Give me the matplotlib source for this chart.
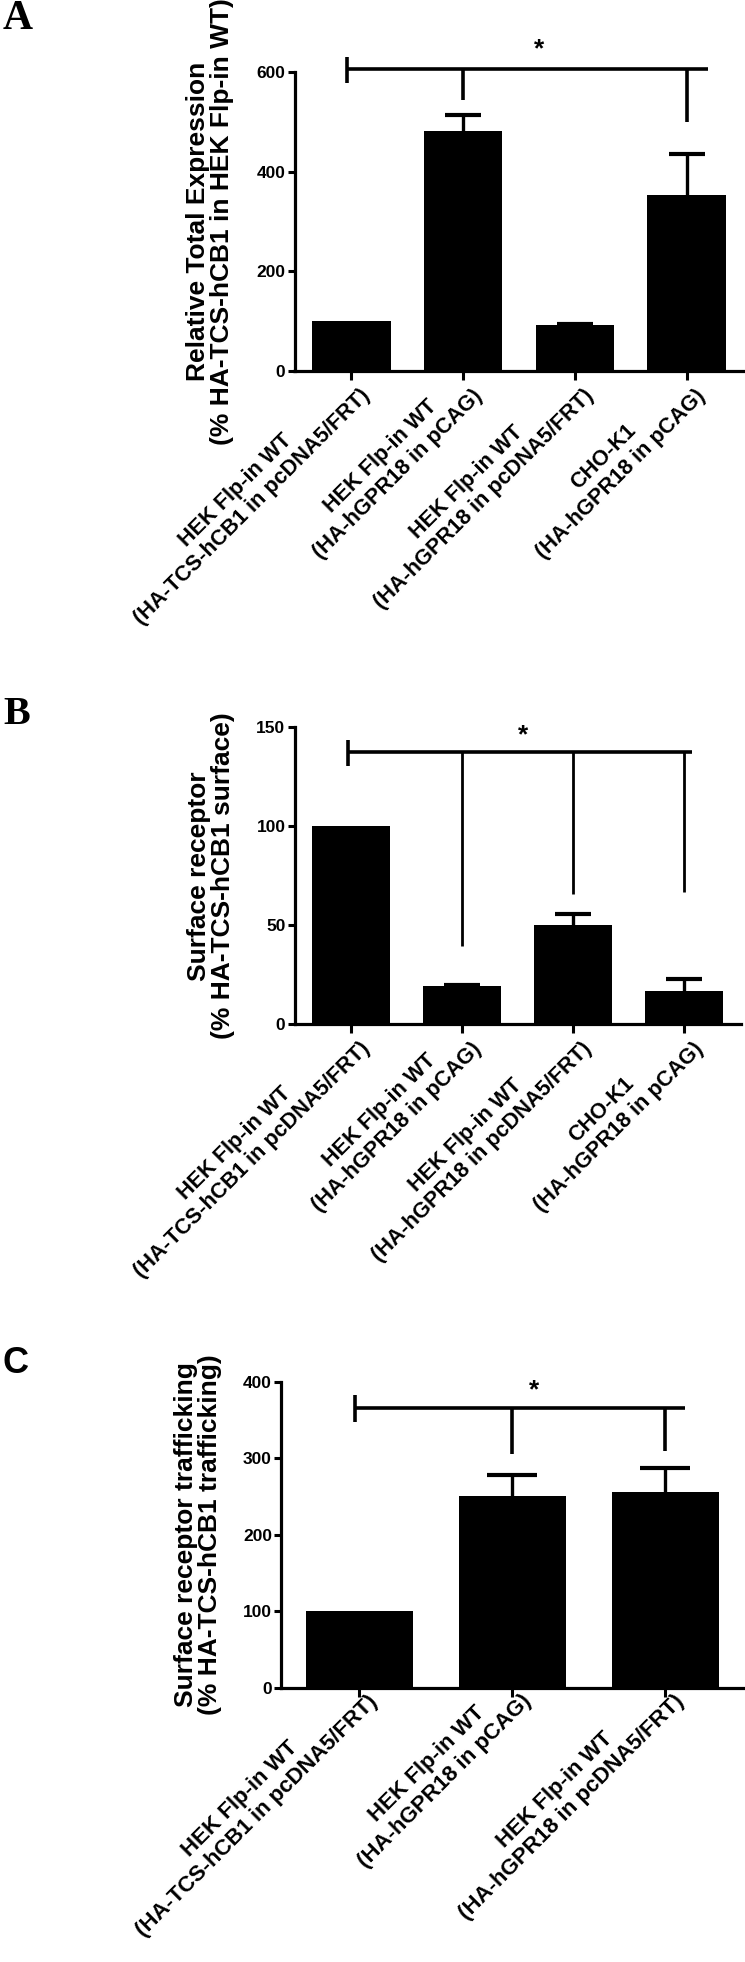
import numpy as np
import matplotlib
matplotlib.use("Agg")
import matplotlib.pyplot as plt
from matplotlib.transforms import ScaledTranslation

# data
labels_a = ["HEK Flp-in WT\n(HA-TCS-hCB1 in pcDNA5/FRT)",
            "HEK Flp-in WT\n(HA-hGPR18 in pCAG)",
            "HEK Flp-in WT\n(HA-hGPR18 in pcDNA5/FRT)",
            "CHO-K1\n(HA-hGPR18 in pCAG)"]
mean_a = [100, 482, 92, 353]
err_a = [0, 32, 3, 83]

labels_b = labels_a
mean_b = [100, 19.5, 50, 17]
err_b = [0, 0.5, 5.5, 6]

labels_c = labels_a[:3]
mean_c = [100, 250, 255]
err_c = [0, 28, 32]

ylab_a = "Relative Total Expression\n(% HA-TCS-hCB1 in HEK Flp-in WT)"
ylab_b = "Surface receptor\n(% HA-TCS-hCB1 surface)"
ylab_c = "Surface receptor trafficking\n(% HA-TCS-hCB1 trafficking)"

SANS = ["Liberation Sans", "DejaVu Sans"]
NARROW = ["Liberation Sans Narrow", "Liberation Sans", "DejaVu Sans"]
SERIF = ["Liberation Serif", "DejaVu Serif"]

W, H = 745, 1962
fig = plt.figure(figsize=(W / 100, H / 100), dpi=100)


def make_axes(left, right, y0, ytop):
    return fig.add_axes([left / W, 1 - y0 / H, (right - left) / W, (y0 - ytop) / H])


def draw_panel(ax, labels, means, errs, yticks, ylabel, capsize, xfs, lab_x, shift):
    x = np.arange(len(means))
    m = np.array(means, dtype=float)
    e = np.array(errs, dtype=float)
    ax.bar(x, m, width=0.7, color="black", zorder=3)
    keep = e > 0  # normalised control bars carry no error bar
    eb = ax.errorbar(x[keep], m[keep], yerr=[np.zeros(keep.sum()), e[keep]], fmt="none",
                     ecolor="black", elinewidth=2.4, capsize=capsize, capthick=3, zorder=2)
    # upper caps only (one-sided SEM bars)
    eb[1][0].set_visible(False)
    ax.set_xlim(-0.51, len(means) - 0.49)
    ax.set_ylim(yticks[0], yticks[-1])
    ax.set_yticks(yticks)
    ax.set_yticklabels([str(t) for t in yticks], fontfamily=SANS, fontweight="bold", fontsize=12.5)
    for s in ["top", "right"]:
        ax.spines[s].set_visible(False)
    for s in ["left", "bottom"]:
        ax.spines[s].set_linewidth(2.3)
    ax.tick_params(axis="y", length=5, width=2.2, pad=1.5)
    ax.tick_params(axis="x", length=6.5, width=2.2, pad=0)
    ax.set_xticks(x)
    ax.set_xticklabels(labels, rotation=45, ha="right", va="center", rotation_mode="anchor",
                       multialignment="center", fontfamily=SANS, fontweight="bold", fontsize=xfs)
    off = ScaledTranslation(shift[0] / 100, shift[1] / 100, fig.dpi_scale_trans)
    for lab in ax.get_xticklabels():
        lab.set_transform(lab.get_transform() + off)
    ax.set_ylabel(ylabel, fontfamily=SANS, fontweight="bold", fontsize=19, linespacing=1.0)
    ax.yaxis.label.set(va="center", ha="center", rotation_mode="anchor")
    ax.yaxis.set_label_coords(lab_x, 0.5)


def bracket(ax, y, cap, xl, xr, drops, star, drop_lw=2.6):
    kw = dict(color="black", lw=2.6, clip_on=False, solid_capstyle="butt", zorder=4)
    ax.plot([xl, xr], [y, y], **kw)
    ax.plot([xl, xl], cap, **kw)
    for xd, yd in drops:
        ax.plot([xd, xd], [y, yd], **dict(kw, lw=drop_lw))
    ax.text(star[0], star[1], "*", ha="center", va="center", fontsize=19,
            fontweight="bold", fontfamily=SANS, clip_on=False)


axA = make_axes(294.5, 743.5, 371, 72)
draw_panel(axA, labels_a, mean_a, err_a, [0, 200, 400, 600], ylab_a, 13.3, 15.6, -0.188, (7, -4))
bracket(axA, 606, [578, 631], -0.04, 3.19, [(1, 544), (3, 500)], (1.68, 645))

axB = make_axes(294.5, 741, 1024.3, 727.3)
draw_panel(axB, labels_b, mean_b, err_b, [0, 50, 100, 150], ylab_b, 13.3, 15.6, -0.188, (7, -4))
bracket(axB, 137.4, [130.5, 143.6], -0.03, 3.07, [(1, 39.5), (2, 65.6), (3, 66.7)], (1.55, 146), 2.0)

axC = make_axes(281, 743.5, 1687.7, 1381.5)
draw_panel(axC, labels_c, mean_c, err_c, [0, 100, 200, 300, 400], ylab_c, 18, 16, -0.179, (7, 7))
bracket(axC, 365.5, [347, 382], -0.03, 2.13, [(1, 305.6), (2, 309)], (1.14, 388))

fig.text(3 / W, 1 - 0 / H, "A", fontfamily=SERIF, fontweight="bold", fontsize=30, va="top", ha="left")
fig.text(3 / W, 1 - 696 / H, "B", fontfamily=SERIF, fontweight="bold", fontsize=29, va="top", ha="left")
fig.text(3 / W, 1 - 1346 / H, "C", fontfamily=NARROW, fontweight="bold", fontsize=26, va="top", ha="left")

fig.savefig("out.png", dpi=100)
